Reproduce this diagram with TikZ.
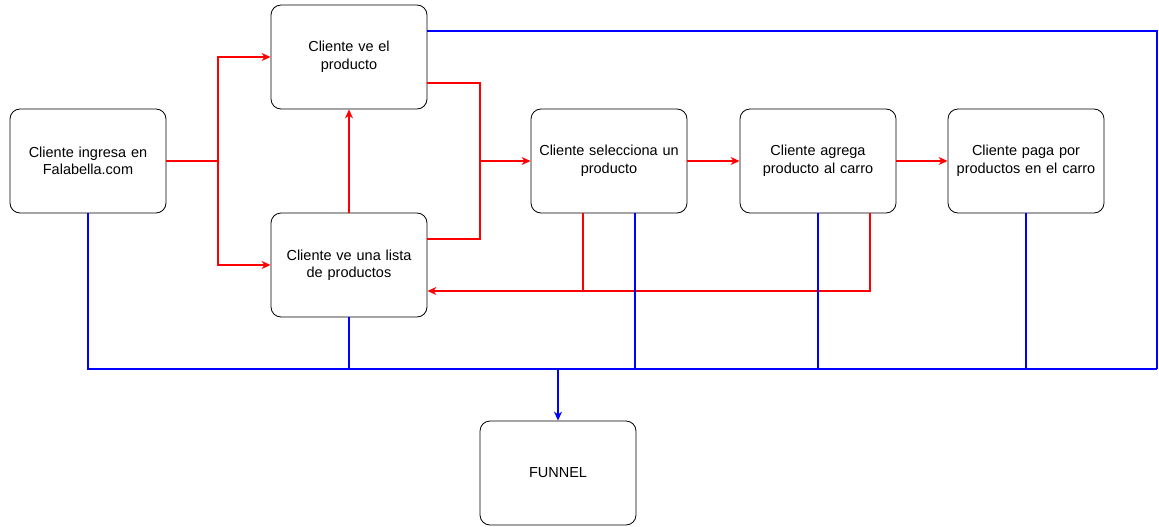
\documentclass[tikz,border=0pt]{standalone}
\usepackage{fontspec}
\setmainfont{Liberation Sans}
\usetikzlibrary{arrows.meta}

\tikzset{
  caja/.style={draw,rounded corners=10pt,minimum width=156pt,minimum height=104pt,
    inner xsep=2pt,text width=151pt,align=center,font=\fontsize{14.5}{17.5}\selectfont,
    line width=0.8pt},
  linea/.style={line width=1.1pt},
  punta/.style={-{Stealth[length=9pt,width=8pt]}}
}

\begin{document}
\begin{tikzpicture}[x=1pt,y=-1pt]
\useasboundingbox (0,0) rectangle (1159,527);

\node[caja] (A) at (88,161) {Cliente ingresa en\\Falabella.com};
\node[caja] (B) at (349,57) {Cliente ve el\\producto};
\node[caja] (C) at (349,265) {Cliente ve una lista\\de productos};
\node[caja] (D) at (609,161) {Cliente selecciona un\\producto};
\node[caja] (E) at (818,161) {Cliente agrega\\producto al carro};
\node[caja] (F) at (1026,161) {Cliente paga por\\productos en el carro};
\node[caja] (G) at (558,473) {FUNNEL};

\coordinate (j1) at (218,161);
\coordinate (j2) at (480,161);
\coordinate (bi) at (88,369);
\coordinate (bd) at (1157,369);
\coordinate (bf) at (558,369);

% flujo del cliente
\begin{scope}[red,linea]
\draw (A.east) -- (j1);
\draw[punta] (j1) |- (B.west);
\draw[punta] (j1) |- (C.west);
\draw[punta] (C.north) -- (B.south);
\draw ([yshift=-26pt]B.east) -| (j2);
\draw ([yshift=26pt]C.east) -| (j2);
\draw[punta] (j2) -- (D.west);
\draw[punta] (D.east) -- (E.west);
\draw[punta] (E.east) -- (F.west);
\draw ([xshift=-26pt]D.south) |- ([xshift=180pt,yshift=-26pt]C.east);
\draw[punta] ([xshift=52pt]E.south) |- ([yshift=-26pt]C.east);
\end{scope}

% todo va al funnel
\begin{scope}[blue,linea]
\draw (A.south) -- (bi) -- (bd);
\draw (C.south) -- (C.south |- bi);
\draw ([xshift=26pt]D.south) -- ([xshift=26pt]D.south |- bi);
\draw (E.south) -- (E.south |- bi);
\draw (F.south) -- (F.south |- bi);
\draw ([yshift=26pt]B.east) -| (bd);
\draw[punta] (bf) -- (G.north);
\end{scope}
\end{tikzpicture}
\end{document}
